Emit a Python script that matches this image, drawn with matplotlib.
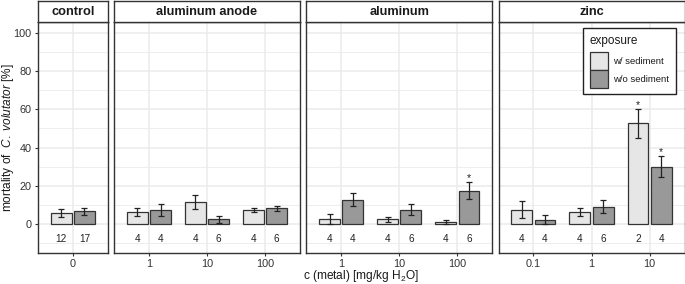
import matplotlib
matplotlib.use("Agg")
import matplotlib.pyplot as plt
from matplotlib.patches import Rectangle
import numpy as np

plt.rcParams['font.family'] = ['Liberation Sans', 'DejaVu Sans']
plt.rcParams['mathtext.fontset'] = 'custom'
plt.rcParams['mathtext.rm'] = 'Liberation Sans'
plt.rcParams['mathtext.it'] = 'Liberation Sans:italic'

# ---------------- data ----------------
panels = ["control", "aluminum anode", "aluminum", "zinc"]
concentrations = [["0"], ["1", "10", "100"], ["1", "10", "100"], ["0.1", "1", "10"]]
with_sed = [[5.7], [6.4, 11.5, 7.6], [2.6, 2.5, 1.3], [7.6, 6.4, 52.6]]
with_sed_err = [[2.1], [2.1, 3.5, 1.0], [2.6, 1.3, 1.1], [4.5, 2.2, 7.6]]
without_sed = [[6.7], [7.5, 2.5, 8.3], [12.7, 7.6, 17.5], [2.4, 9.2, 30.1]]
without_sed_err = [[1.8], [3.1, 1.8, 1.3], [3.4, 2.9, 4.4], [2.5, 3.5, 5.5]]
n_with = [[12], [4, 4, 4], [4, 4, 4], [4, 4, 2]]
n_without = [[17], [4, 6, 6], [4, 6, 6], [4, 6, 4]]
sig_with = [[False], [False, False, False], [False, False, False], [False, False, True]]
sig_without = [[False], [False, False, False], [False, False, True], [False, False, True]]
legend_labels = ["w/ sediment", "w/o sediment"]

# ---------------- style ----------------
LIGHT = "#e6e6e6"
DARK = "#999999"
EDGE = "#333333"
GRID = "#ebebeb"
W, H = 685, 284
fig = plt.figure(figsize=(W / 100, H / 100), dpi=100)

def fx(x):
    return x / W

def fy(y):
    return 1 - y / H

left0 = 38.0
gap = 6.3
unit = (684.5 - left0 - 3 * gap) / 10.8
top_px, bot_px = 22.0, 253.0
strip_top = 0.5

x = left0
axes = []
for i, name in enumerate(panels):
    ncat = len(concentrations[i])
    wpx = (ncat - 1 + 1.2) * unit
    ax = fig.add_axes([fx(x), fy(bot_px), wpx / W, (bot_px - top_px) / H])
    sax = fig.add_axes([fx(x), fy(top_px), wpx / W, (top_px - strip_top) / H])
    x += wpx + gap
    axes.append(ax)

    pos = np.arange(ncat)
    ax.set_xlim(-0.6, ncat - 1 + 0.6)
    ax.set_ylim(-15, 105.5)
    ax.set_axisbelow(True)
    for v in range(-10, 101, 10):
        ax.axhline(v, color=GRID, lw=1.1 if v % 20 == 0 else 0.6, zorder=0)
    for p in pos:
        ax.axvline(p, color=GRID, lw=1.1, zorder=0)

    ax.bar(pos - 0.2, with_sed[i], width=0.36, color=LIGHT, edgecolor=EDGE, linewidth=0.9, zorder=2)
    ax.bar(pos + 0.2, without_sed[i], width=0.36, color=DARK, edgecolor=EDGE, linewidth=0.9, zorder=2)
    ax.errorbar(pos - 0.2, with_sed[i], yerr=with_sed_err[i], fmt='none', ecolor='#222222',
                elinewidth=0.9, capsize=2.2, capthick=0.9, zorder=3)
    ax.errorbar(pos + 0.2, without_sed[i], yerr=without_sed_err[i], fmt='none', ecolor='#222222',
                elinewidth=0.9, capsize=2.2, capthick=0.9, zorder=3)

    for j in range(ncat):
        ax.text(pos[j] - 0.2, -7.5, str(n_with[i][j]), ha='center', va='center', fontsize=7.2, color='#222222')
        ax.text(pos[j] + 0.2, -7.5, str(n_without[i][j]), ha='center', va='center', fontsize=7.2, color='#222222')
        if sig_with[i][j]:
            ax.text(pos[j] - 0.2, with_sed[i][j] + with_sed_err[i][j] + 2.2, "*", ha='center', va='center',
                    fontsize=7.5, color='#222222')
        if sig_without[i][j]:
            ax.text(pos[j] + 0.2, without_sed[i][j] + without_sed_err[i][j] + 2.2, "*", ha='center', va='center',
                    fontsize=7.5, color='#222222')

    ax.set_xticks(pos)
    ax.set_xticklabels(concentrations[i])
    ax.set_yticks(range(0, 101, 20))
    ax.tick_params(axis='both', length=2.5, width=0.8, color='#333333', labelsize=7.8,
                   labelcolor='#333333', pad=2)
    if i > 0:
        ax.tick_params(axis='y', left=False, labelleft=False)
    for s in ax.spines.values():
        s.set_color('#333333')
        s.set_linewidth(1.0)

    sax.set_xticks([])
    sax.set_yticks([])
    sax.set_facecolor('white')
    for s in sax.spines.values():
        s.set_color('#333333')
        s.set_linewidth(1.0)
    sax.text(0.5, 0.47, name, transform=sax.transAxes, ha='center', va='center',
             fontsize=9.2, fontweight='bold', color='#1a1a1a')

fig.text(fx(8), fy((top_px + bot_px) / 2), r"mortality of  $\mathit{C.\ volutator}$ [%]", rotation=90,
         ha='center', va='center', fontsize=8.6, color='#1a1a1a')
fig.text(fx(361), fy(276), r"c (metal) [mg/kg H$_2$O]", ha='center', va='center', fontsize=8.6, color='#1a1a1a')

# ---------------- legend ----------------
fig.patches.append(Rectangle((fx(583), fy(94)), (676 - 583) / W, (94 - 28) / H, transform=fig.transFigure,
                             facecolor='white', edgecolor='#222222', linewidth=1.0, zorder=10))
fig.text(fx(589), fy(41), "exposure", ha='left', va='center', fontsize=8.5, color='#1a1a1a', zorder=11)
for k, (c, lab) in enumerate(zip([LIGHT, DARK], legend_labels)):
    y0 = 52 + 18 * k
    fig.patches.append(Rectangle((fx(590), fy(y0 + 18)), 17.5 / W, 18 / H, transform=fig.transFigure,
                                 facecolor=c, edgecolor='#333333', linewidth=0.9, zorder=11))
    fig.text(fx(613), fy(y0 + 9), lab, ha='left', va='center', fontsize=6.8, color='#1a1a1a', zorder=12)

fig.savefig("out.png", dpi=100)
